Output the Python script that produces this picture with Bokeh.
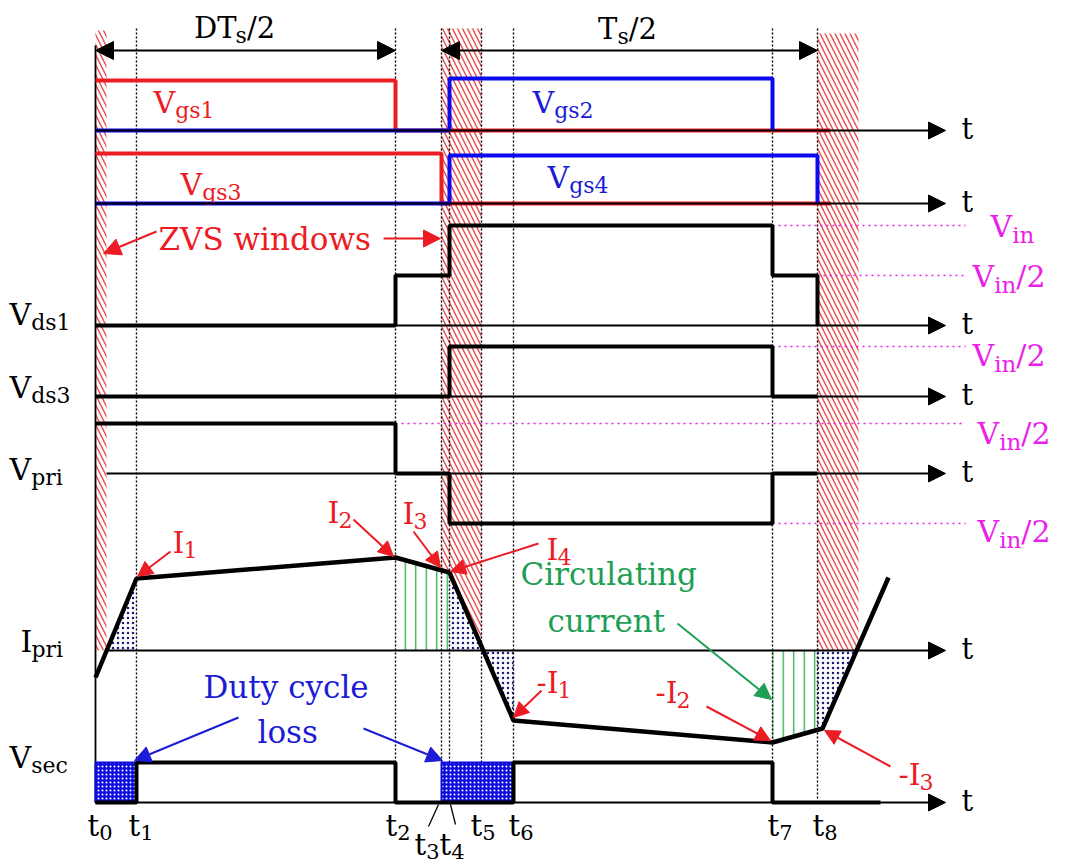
import numpy as np
from bokeh.plotting import figure
from bokeh.models import Range1d, Arrow, NormalHead
from bokeh.core.properties import value
from bokeh.embed import file_html
from bokeh.resources import INLINE

# ---------------- data (time instants and waveform levels) ----------------
t_names = ["0", "1", "2", "3", "4", "5", "6", "7", "8"]
t_x = [95, 136, 395, 441, 449, 481, 513, 772, 817]
T0, T1, T2, T3, T4, T5, T6, T7, T8 = t_x
T_GATE_END = 830
T_SEC_END = 880

vgs1_t = [T0, T2, T2, T_GATE_END]
vgs1 = [1, 1, 0, 0]
vgs2_t = [T0, T4, T4, T7, T7]
vgs2 = [0, 0, 1, 1, 0]
vgs3_t = [T0, T3, T3, T_GATE_END]
vgs3 = [1, 1, 0, 0]
vgs4_t = [T0, T4, T4, T8, T8]
vgs4 = [0, 0, 1, 1, 0]

vds1_t = [T0, T2, T2, T4, T4, T7, T7, T8, T8]
vds1 = [0, 0, 0.5, 0.5, 1, 1, 0.5, 0.5, 0]
vds3_t = [T0, T4, T4, T7, T7, T8]
vds3 = [0, 0, 0.5, 0.5, 0, 0]
vpri_t = [T0, T2, T2, T4, T4, T7, T7, T8]
vpri = [0.5, 0.5, 0, 0, -0.5, -0.5, 0, 0]

ipri_t = [T0, T1, T2, T4, T6, T7, 822, 888]
ipri = [-0.27, 0.72, 0.93, 0.78, -0.70, -0.92, -0.78, 0.73]

vsec_t = [T0, T1, T1, T2, T2, T6, T6, T7, T7, T_SEC_END]
vsec = [0, 0, 1, 1, 0, 0, 1, 1, 0, 0]
loss_intervals = [(T0, T1), (T3, T6)]
zvs_windows = [(T0, 106), (T3, T5), (T8, 858)]

# ---------------- layout / style ----------------
ROW = {"g12": 130, "g34": 203, "ds1": 325, "ds3": 396, "pri": 473, "ip": 650, "sec": 802}
A_G, A_V, A_I, A_S = 50, 100, 100, 40
RED = "#ec1c24"
BLUE = "#0a0af0"
TBLUE = "#1c1cd6"
GREEN = "#1f9e55"
MAG = "#ea1fea"
BLK = "#000000"
FONT = "DejaVu Serif"
X_AXIS_END = 945
BASE_K = 0.38   # renderer baseline correction (fraction of font size)

WID = {' ': .318, '/': .337, '-': .338, 'C': .733, 'D': .770, 'I': .365, 'S': .685,
       'T': .669, 'V': .722, 'Z': .685, 'a': .596, 'c': .560, 'd': .640, 'e': .592,
       'g': .640, 'i': .320, 'l': .320, 'n': .644, 'o': .602, 'p': .640, 'r': .478,
       's': .513, 't': .402, 'u': .644, 'w': .924, 'y': .565}


def tw(s, size):
    return sum(WID.get(c, .636) for c in s) * size


p = figure(width=1066, height=865, x_range=Range1d(0, 1066), y_range=Range1d(865, 0),
           output_backend="svg", toolbar_location=None, min_border=0,
           x_axis_type=None, y_axis_type=None)
p.grid.visible = False
p.outline_line_color = None
p.background_fill_color = "white"
p.border_fill_color = "white"


def Y(base, levels, amp):
    return [base - v * amp for v in levels]


def ipri_y(x):
    return ROW["ip"] - np.interp(x, ipri_t, ipri) * A_I


# ---------------- ZVS windows (hatched) ----------------
tops = [30, 28, 33]
for (a, b), top in zip(zvs_windows, tops):
    if a == T8:
        xs = [a, b, b, a]
        ys = [top, top, ROW["ip"], ROW["ip"]]
    else:
        xb = [b, a] if a != T3 else [b, T4, a]
        xs = [a, b] + xb
        ys = [top, top] + [float(min(ROW["ip"], ipri_y(x))) for x in xb]
    p.patch(xs, ys, fill_color=None, line_color=None, hatch_pattern="left_diagonal_line",
            hatch_color="#ea4a4c", hatch_scale=10, hatch_weight=1.4)

# ---------------- shaded current regions ----------------
def zero_cross(i):
    x0, x1 = ipri_t[i], ipri_t[i + 1]
    v0, v1 = ipri[i], ipri[i + 1]
    return x0 + (0 - v0) * (x1 - x0) / (v1 - v0)


zc = [zero_cross(i) for i in range(len(ipri) - 1) if ipri[i] * ipri[i + 1] < 0]


def region(a, b):
    xs = list(np.linspace(a, b, 120))
    ys = [float(ipri_y(x)) for x in xs]
    return [a] + xs + [b], [ROW["ip"]] + ys + [ROW["ip"]]


for a, b in [(zc[0], T1), (T4, zc[1]), (zc[1], T6), (T8, zc[2])]:
    xs, ys = region(a, b)
    p.patch(xs, ys, fill_color=None, line_color=None, hatch_pattern="dot",
            hatch_color="#1a1a80", hatch_scale=5, hatch_weight=1)
for a, b in [(T2, T4), (T7, T8)]:
    xs, ys = region(a, b)
    p.patch(xs, ys, fill_color=None, line_color=None, hatch_pattern="vertical_line",
            hatch_color="#2aa84a", hatch_scale=10.5, hatch_weight=1.3)

# ---------------- dotted time markers ----------------
vbottom = {T1: 762, T2: 762, T3: 762, T4: 762, T5: 762, T6: 762, T7: 762, T8: 800}
p.segment(x0=t_x[1:], y0=[28] * 8, x1=t_x[1:], y1=[vbottom[t] for t in t_x[1:]],
          line_color=BLK, line_width=1.4, line_dash="2 2")

# magenta reference lines
mag_lines = [(T7, ROW["ds1"] - A_V), (T8, ROW["ds1"] - A_V / 2), (T7, ROW["ds3"] - A_V / 2),
             (T2, ROW["pri"] - A_V / 2), (T7, ROW["pri"] + A_V / 2)]
p.segment(x0=[m[0] for m in mag_lines], y0=[m[1] for m in mag_lines],
          x1=[965] * 5, y1=[m[1] for m in mag_lines],
          line_color=MAG, line_width=1.6, line_dash="2 4")

# ---------------- axes ----------------
p.line([T0, T0], [45, ROW["sec"]], line_color=BLK, line_width=1.8)
axis_start = {"g12": T0, "g34": T0, "ds1": T0, "ds3": T0, "pri": 106, "ip": 106, "sec": T0}
for k, y in ROW.items():
    p.add_layout(Arrow(end=NormalHead(size=17, fill_color=BLK, line_color=BLK),
                       x_start=axis_start[k], y_start=y, x_end=X_AXIS_END, y_end=y,
                       line_color=BLK, line_width=1.8))

# ---------------- waveforms ----------------
p.line(vgs1_t, Y(ROW["g12"], vgs1, A_G), line_color=RED, line_width=4)
p.line(vgs2_t, Y(ROW["g12"], vgs2, A_G + 2), line_color=BLUE, line_width=4)
p.line(vgs3_t, Y(ROW["g34"], vgs3, A_G), line_color=RED, line_width=4)
p.line(vgs4_t, Y(ROW["g34"], vgs4, A_G - 2), line_color=BLUE, line_width=4)

p.line(vds1_t, Y(ROW["ds1"], vds1, A_V), line_color=BLK, line_width=4)
p.line(vds3_t, Y(ROW["ds3"], vds3, A_V), line_color=BLK, line_width=4)
p.line(vpri_t, Y(ROW["pri"], vpri, A_V), line_color=BLK, line_width=4)
p.line(ipri_t, Y(ROW["ip"], ipri, A_I), line_color=BLK, line_width=4.5)

for a, b in loss_intervals:
    p.quad(left=a, right=b, top=ROW["sec"] - A_S, bottom=ROW["sec"], fill_color="#0c0cdc",
           line_color="#0c0cdc", line_width=2, hatch_pattern="dot", hatch_color="white",
           hatch_scale=4, hatch_weight=1)
p.line(vsec_t, Y(ROW["sec"], vsec, A_S), line_color=BLK, line_width=4)

# ---------------- dimension arrows ----------------
for a, b in [(T0, T2), (T3, T8)]:
    p.add_layout(Arrow(start=NormalHead(size=18, fill_color=BLK, line_color=BLK),
                       end=NormalHead(size=18, fill_color=BLK, line_color=BLK),
                       x_start=a, y_start=50, x_end=b, y_end=50, line_color=BLK, line_width=2))


# ---------------- text helpers ----------------
def put(x, y, t, fs, color):
    p.text(x=[x], y=[y - BASE_K * fs], text=[t], text_font=value(FONT),
           text_font_size=f"{fs}px", text_color=color, text_align="left",
           text_baseline="alphabetic")


def label(x, y, parts, color, size=30, sub=22, drop=5, align="left"):
    total = sum(tw(t, sub if s else size) for t, s in parts)
    if align == "center":
        x -= total / 2
    for t, s in parts:
        fs = sub if s else size
        put(x, y + (drop if s else 0), t, fs, color)
        x += tw(t, fs)


def note(x0, y0, x1, y1, color, size=15):
    p.add_layout(Arrow(end=NormalHead(size=size, fill_color=color, line_color=color),
                       x_start=x0, y_start=y0, x_end=x1, y_end=y1,
                       line_color=color, line_width=2))


# dimension labels
label(234, 39, [("DT", 0), ("s", 1), ("/2", 0)], BLK, size=29, sub=22, drop=4, align="center")
label(627, 40, [("T", 0), ("s", 1), ("/2", 0)], BLK, size=29, sub=22, drop=4, align="center")

# gate labels
label(153, 113, [("V", 0), ("gs1", 1)], RED)
label(532, 113, [("V", 0), ("gs2", 1)], TBLUE)
label(180, 195, [("V", 0), ("gs3", 1)], RED)
label(547, 188, [("V", 0), ("gs4", 1)], TBLUE)

# left signal names
label(9, 325, [("V", 0), ("ds1", 1)], BLK)
label(9, 398, [("V", 0), ("ds3", 1)], BLK)
label(9, 480, [("V", 0), ("pri", 1)], BLK)
label(20, 652, [("I", 0), ("pri", 1)], BLK)
label(9, 768, [("V", 0), ("sec", 1)], BLK)

# right "t" labels
for k, y in ROW.items():
    put(961, y + 10, "t", 29, BLK)

# voltage level labels
label(990, 237, [("V", 0), ("in", 1)], MAG, sub=23, drop=6)
label(972, 287, [("V", 0), ("in", 1), ("/2", 0)], MAG, sub=23, drop=6)
label(972, 366, [("V", 0), ("in", 1), ("/2", 0)], MAG, sub=23, drop=6)
label(977, 444, [("V", 0), ("in", 1), ("/2", 0)], MAG, sub=23, drop=6)
label(977, 542, [("V", 0), ("in", 1), ("/2", 0)], MAG, sub=23, drop=6)

# time labels
t_lab_x = [87, 128, 385, None, None, 470, 508, 767, 812]
for name, lx in zip(t_names, t_lab_x):
    if lx is not None:
        label(lx, 837, [("t", 0), (name, 1)], BLK, size=29, sub=21, drop=3)
label(414, 856, [("t", 0), (t_names[3], 1), ("t", 0), (t_names[4], 1)], BLK, size=29, sub=21, drop=3)
p.segment(x0=[428, 455], y0=[826, 824], x1=[438, 450], y1=[804, 804], line_color=BLK, line_width=1.3)

# ZVS annotation
put(158, 250, "ZVS windows", 31, RED)
note(156, 231, 103, 253, RED, 17)
note(383, 238, 440, 238, RED, 17)

# current annotations
label(172, 553, [("I", 0), ("1", 1)], RED)
note(170, 551, 137, 576, RED)
label(327, 523, [("I", 0), ("2", 1)], RED)
note(353, 519, 393, 556, RED)
label(402, 524, [("I", 0), ("3", 1)], RED)
note(413, 531, 440, 567, RED)
label(546, 560, [("I", 0), ("4", 1)], RED)
note(538, 543, 450, 571, RED)
label(536, 693, [("-I", 0), ("1", 1)], RED)
note(541, 690, 513, 717, RED)
label(655, 703, [("-I", 0), ("2", 1)], RED)
note(706, 706, 770, 740, RED)
label(898, 785, [("-I", 0), ("3", 1)], RED)
note(890, 766, 824, 730, RED)

# circulating current
put(520, 585, "Circulating", 31, GREEN)
put(547, 632, "current", 31, GREEN)
note(677, 623, 771, 699, GREEN, 16)

# duty cycle loss
put(203, 698, "Duty cycle", 31, TBLUE)
put(257, 743, "loss", 31, TBLUE)
note(238, 717, 134, 760, TBLUE, 16)
note(363, 728, 442, 760, TBLUE, 16)

open("out.html", "w").write(file_html(p, INLINE))
